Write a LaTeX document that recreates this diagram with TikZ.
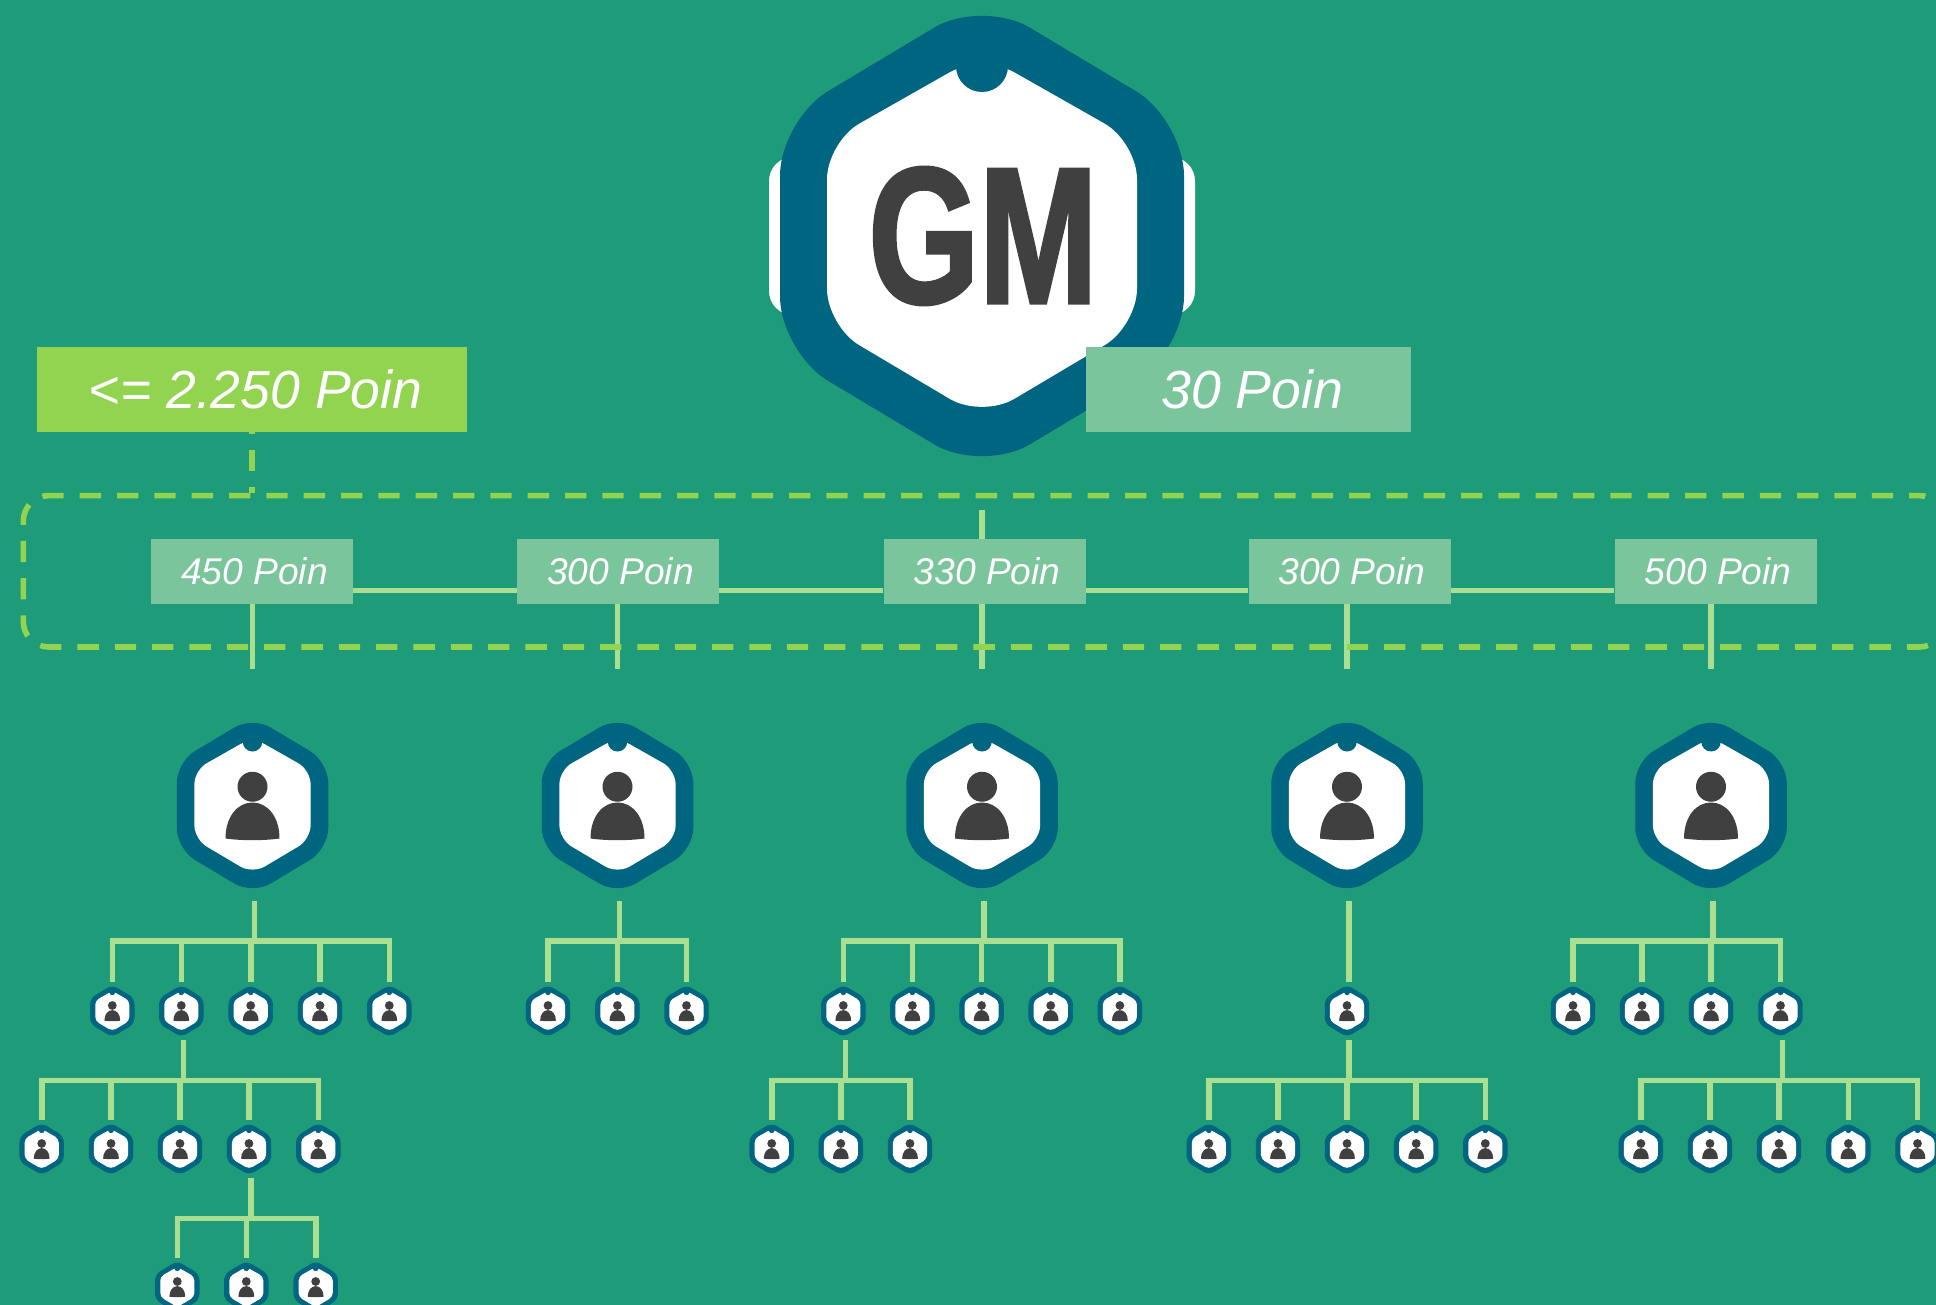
\documentclass[tikz,border=0pt]{standalone}
\usepackage{fontspec}
\setmainfont{Liberation Sans}
\newfontfamily\gmfont[FakeStretch=0.73,FakeBold=1.6]{Liberation Sans Bold}

\tikzset{
	bgfill/.style={fill={rgb, 255:red, 30; green, 155; blue, 120 }},
	badgeteal/.style={fill={rgb, 255:red, 0; green, 101; blue, 128 }},
	glyphgray/.style={fill={rgb, 255:red, 64; green, 64; blue, 64 }},
	treeline/.style={draw={rgb, 255:red, 170; green, 222; blue, 144 }, line width=4.2pt, line cap=butt},
	pointbox/.style={fill={rgb, 255:red, 122; green, 197; blue, 156 }, text=white, inner sep=0pt, font=\itshape},
	smalllabel/.style={pointbox, minimum width=151.5pt, minimum height=48.5pt, font=\fontsize{27.9pt}{32pt}\selectfont\itshape, execute at begin node=\hspace*{3.7pt}},
	biglabel/.style={pointbox, minimum height=63.5pt, font=\fontsize{40.2pt}{46pt}\selectfont\itshape, execute at begin node=\hspace*{5.5pt}},
	limebox/.style={fill={rgb, 255:red, 146; green, 211; blue, 80 }},
	zoneline/.style={draw={rgb, 255:red, 146; green, 211; blue, 80 }, line width=4.2pt, dash pattern=on 16pt off 12pt, dash phase=8.3pt},
	bigperson/.style={minimum width=114pt, minimum height=125pt, inner sep=0pt, outer sep=9pt},
	smallperson/.style={minimum width=33pt, minimum height=36pt, inner sep=0pt, outer sep=4.1pt},
	hexshell/.pic={
		\pgfmathsetmacro\outerround{42*#1}
		\pgfmathsetmacro\innerround{28*#1}
		\fill [badgeteal, xscale=#1, yscale=-#1, rounded corners=\outerround pt] (202,0) -- (202,116) -- (0,237) -- (-202,116) -- (-202,-116) -- (0,-237) -- (202,-116) -- cycle;
		\fill [white, xscale=#1, yscale=-#1, rounded corners=\innerround pt] (155,0) -- (155,90) -- (0,182) -- (-155,90) -- (-155,-94) -- (0,-182) -- (155,-94) -- cycle;
		\fill [badgeteal, xscale=#1, yscale=-#1] (0,-170) circle (26);
	},
	personbadge/.pic={
		\pic {hexshell=#1};
		\fill [glyphgray, xscale=#1, yscale=-#1] (0,-50) circle (40);
		\fill [glyphgray, xscale=#1, yscale=-#1] (-72,88) .. controls (-72,30) and (-40,-8) .. (0,-8) .. controls (40,-8) and (72,30) .. (72,88) .. controls (30,94) and (-30,94) .. (-72,88) -- cycle;
	},
}

\newcommand{\branch}[2]{\foreach \kid in {#2} {\draw [treeline] ([xshift=1.5pt]#1.south) -- ++(0,40) -| (\kid.north);}}

\begin{document}
\begin{tikzpicture}[x=0.75pt,y=0.75pt,yscale=-1,xscale=1]
	\useasboundingbox (0,0) rectangle (1936,1305);
	\clip (0,0) rectangle (1936,1305);
	\fill [bgfill] (0,0) rectangle (1936,1305);
	
	%Shape: GM badge
	\fill [white, rounded corners=18pt] (769,157) rectangle (1195,315);
	\pic at (982,236) {hexshell=1};
	% Text Node
	\node [text={rgb, 255:red, 64; green, 64; blue, 64 }, inner sep=0pt, font=\fontsize{146pt}{150pt}\gmfont] (gm) at (983,236) {GM};
	
	% Text Node
	\node [biglabel, limebox, minimum width=322.5pt] (total) at (252,389.5) {<= 2.250 Poin};
	% Text Node
	\node [biglabel, minimum width=243.75pt] (own) at (1248.5,389.5) {30 Poin};
	
	% Text Node
	\node [smalllabel] (l1) at (252,571.3) {450 Poin};
	\node [smalllabel] (l2) at (618,571.3) {300 Poin};
	\node [smalllabel] (l3) at (984.7,571.3) {330 Poin};
	\node [smalllabel] (l4) at (1349.5,571.3) {300 Poin};
	\node [smalllabel] (l5) at (1715.6,571.3) {500 Poin};
	
	%Straight Lines between the labels
	\foreach \a/\b in {l1/l2,l2/l3,l3/l4,l4/l5} {
		\draw [treeline] ([yshift=14.25pt]\a.east) -- ([yshift=14.25pt]\b.west);
	}
	\coordinate (s3) at (982,510);
	\draw [treeline] (s3) -- (s3 |- l3.north);
	
	%Shape: person badges
	\foreach \n/\x in {p1/252.5,p2/617.5,p3/982,p4/1347,p5/1711} {
		\node [bigperson] (\n) at (\x,805.5) {};
		\pic at (\n) {personbadge=0.375};
		\coordinate (e\n) at (\x,669);
	}
	\draw [treeline] (l1.south -| ep1) -- (ep1);
	\draw [treeline] (l2.south -| ep2) -- (ep2);
	\draw [treeline] (l3.south -| ep3) -- (ep3);
	\draw [treeline] (l4.south -| ep4) -- (ep4);
	\draw [treeline] (l5.south -| ep5) -- (ep5);
	
	%Shape: dashed zone
	\node [zoneline, rounded corners=19pt, minimum width=1441pt, minimum height=113.5pt, inner sep=0pt] (zone) at (984,571.3) {};
	\draw [zoneline, dash phase=14.5pt] (total.south) -- (total.south |- zone.north);
	
	%Shape: small person badges
	\foreach \n/\x/\y in {
		a1/112.3/1011,a2/181.3/1011,a3/250.7/1011,a4/320/1011,a5/389.3/1011,
		b1/548/1011,b2/617.4/1011,b3/686.5/1011,
		c1/843.3/1011,c2/912.4/1011,c3/981.6/1011,c4/1050.7/1011,c5/1119.9/1011,
		d1/1347/1011,
		e1/1573/1011,e2/1642/1011,e3/1711/1011,e4/1780.5/1011,
		f1/41.7/1149,f2/111/1149,f3/180/1149,f4/249/1149,f5/318.3/1149,
		g1/771.7/1149,g2/840.8/1149,g3/910/1149,
		h1/1208.8/1149,h2/1278/1149,h3/1347/1149,h4/1416.2/1149,h5/1485.3/1149,
		i1/1640.9/1149,i2/1710/1149,i3/1779/1149,i4/1848.4/1149,i5/1917.5/1149,
		k1/177.3/1287,k2/246.3/1287,k3/315.7/1287} {
		\node [smallperson] (\n) at (\x,\y) {};
		\pic at (\n) {personbadge=0.11};
	}
	
	%Straight Lines of the trees
	\branch{p1}{a1,a2,a3,a4,a5}
	\branch{p2}{b1,b2,b3}
	\branch{p3}{c1,c2,c3,c4,c5}
	\draw [treeline] ([xshift=1.5pt]p4.south) -- ([xshift=1.5pt]d1.north);
	\branch{p5}{e1,e2,e3,e4}
	\branch{a2}{f1,f2,f3,f4,f5}
	\branch{c1}{g1,g2,g3}
	\branch{d1}{h1,h2,h3,h4,h5}
	\branch{e4}{i1,i2,i3,i4,i5}
	\branch{f4}{k1,k2,k3}
\end{tikzpicture}
\end{document}
